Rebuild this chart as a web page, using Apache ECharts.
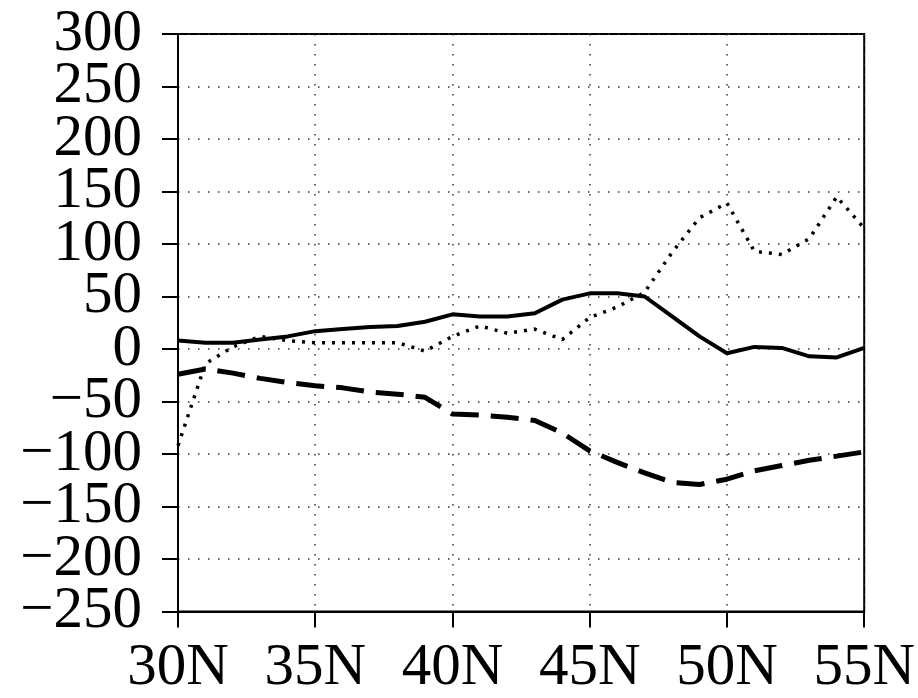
<!DOCTYPE html>
<html>
<head>
<meta charset="utf-8">
<script src="https://cdn.jsdelivr.net/npm/echarts@6/dist/echarts.min.js"></script>
<style>
  html, body { margin: 0; padding: 0; background: #fff; }
  #main { width: 918px; height: 698px; }
</style>
</head>
<body>
<div id="main"></div>
<script>
var lats = [30, 31, 32, 33, 34, 35, 36, 37, 38, 39, 40, 41, 42, 43, 44, 45, 46, 47, 48, 49, 50, 51, 52, 53, 54, 55];
var solidVals = [8, 6, 6, 9, 12, 17, 19, 21, 22, 26, 33, 31, 31, 34, 47, 53, 53, 50, 31, 12, -4, 2, 1, -7, -8, 1];
var dashVals = [-24, -19, -23, -28, -32, -35, -37, -41, -43, -46, -62, -63, -65, -68, -80, -97, -108, -118, -127, -129, -124, -116, -111, -106, -102, -98];
var dotVals = [-92, -14, 2, 12, 8, 6, 6, 6, 6, -2, 12, 22, 15, 19, 9, 30, 40, 54, 92, 125, 139, 93, 90, 105, 145, 115];

function pairs(vals) {
    var out = [];
    for (var i = 0; i < lats.length; i++) out.push([lats[i], vals[i]]);
    return out;
}

var dom = document.getElementById("main");
var myChart = echarts.init(dom);
var font = "'Liberation Serif', 'DejaVu Serif', serif";
var gridLine = { show: true, lineStyle: { color: '#333', width: 1.5, type: [1.5, 8.5] } };

// labels are big, so split them over two stacked axes (every other value each)
function yAxisOf(even) {
    return {
        type: 'value',
        position: 'left',
        min: -250, max: 300, interval: 50,
        axisLine: { show: even, onZero: false, lineStyle: { color: '#000', width: 2 } },
        axisTick: { show: even, inside: false, length: 16, lineStyle: { color: '#000', width: 2 } },
        axisLabel: {
            color: '#000', fontFamily: font, fontSize: 59, lineHeight: 36, margin: 36,
            showMinLabel: true, showMaxLabel: true,
            formatter: function (v) {
                var isEven = Math.abs(v) % 100 === 0;
                if (isEven !== even) return '';
                return String(v).replace('-', '\u2212');
            }
        },
        splitLine: even ? gridLine : { show: false }
    };
}

var option = {
    animation: false,
    backgroundColor: '#fff',
    grid: {
        left: 178, right: 52, top: 34, bottom: 86,
        show: true, borderColor: '#000', borderWidth: 2
    },
    xAxis: {
        type: 'value',
        min: 30, max: 55, interval: 5,
        axisLine: { onZero: false, lineStyle: { color: '#000', width: 2 } },
        axisTick: { inside: false, length: 16, lineStyle: { color: '#000', width: 2 } },
        axisLabel: {
            color: '#000', fontFamily: font, fontSize: 59, lineHeight: 36, margin: 39,
            showMinLabel: true, showMaxLabel: true,
            formatter: function (v) { return v + 'N'; }
        },
        splitLine: gridLine
    },
    yAxis: [yAxisOf(true), yAxisOf(false)],
    series: [
        {
            name: 'solid', type: 'line', data: pairs(solidVals),
            symbol: 'none', smooth: false,
            lineStyle: { color: '#000', width: 4, type: 'solid' }
        },
        {
            name: 'dash', type: 'line', data: pairs(dashVals),
            symbol: 'none',
            lineStyle: { color: '#000', width: 5, type: [28, 12] }
        },
        {
            name: 'dot', type: 'line', data: pairs(dotVals),
            symbol: 'none',
            lineStyle: { color: '#000', width: 3.5, type: [3, 7] }
        }
    ]
};
if (option && typeof option === "object") {
    myChart.setOption(option, true);
}
</script>
</body>
</html>
